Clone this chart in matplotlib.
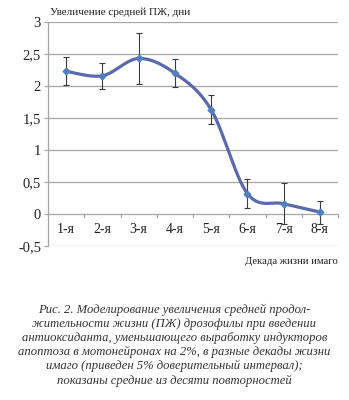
import numpy as np
import matplotlib.pyplot as plt

# Увеличение средней ПЖ по декадам жизни имаго
decades = ['1-я', '2-я', '3-я', '4-я', '5-я', '6-я', '7-я', '8-я']
means = [2.23, 2.16, 2.43, 2.20, 1.63, 0.32, 0.16, 0.03]
ci = [0.22, 0.20, 0.40, 0.22, 0.23, 0.22, 0.32, 0.18]

caption = [
    'Рис. 2. Моделирование увеличения средней продол-',
    'жительности жизни (ПЖ) дрозофилы при введении',
    'антиоксиданта, уменьшающего выработку индукторов',
    'апоптоза в мотонейронах на 2%, в разные декады жизни',
    'имаго (приведен 5% доверительный интервал);',
    'показаны средние из десяти повторностей',
]


def smooth_curve(x, y, n=40):
    # сглаженная линия из кубических сегментов Безье (как в Excel)
    pts = np.column_stack([x, y])
    ext = np.vstack([pts[0], pts, pts[-1]])
    t = np.linspace(0, 1, n)[:, None]
    out = []
    for i in range(len(pts) - 1):
        p0, p1, p2, p3 = ext[i], ext[i + 1], ext[i + 2], ext[i + 3]
        c1 = p1 + (p2 - p0) / 6
        c2 = p2 - (p3 - p1) / 6
        seg = ((1 - t) ** 3) * p1 + 3 * ((1 - t) ** 2) * t * c1 \
            + 3 * (1 - t) * t ** 2 * c2 + t ** 3 * p2
        out.append(seg)
    out = np.vstack(out)
    return out[:, 0], out[:, 1]


plt.rcParams['font.family'] = ['Liberation Serif', 'DejaVu Serif']

fig = plt.figure(figsize=(3.49, 4.0), dpi=100)
ax = fig.add_axes([48 / 349, 1 - 246 / 400, 290 / 349, 224 / 400])

x = np.arange(len(decades))
grid_col = '#a6a6a6'

for v in np.arange(-0.5, 3.01, 0.5):
    ax.axhline(v, color=grid_col, lw=0.9, zorder=0)

xs, ys = smooth_curve(x, means)
ax.plot(xs, ys, color='#5d68ab', lw=2.3, solid_capstyle='round', zorder=3)
ax.errorbar(x, means, yerr=ci, fmt='none', ecolor='#3a3a3a', elinewidth=0.8,
            capsize=2.2, capthick=0.8, zorder=4)
ax.plot(x, means, 'D', color='#4f81bd', ms=3.4, mec='#4f81bd', zorder=5)

ax.set_xlim(-0.5, len(decades) - 0.5)
ax.set_ylim(-0.5, 3.0)
ax.set_yticks(np.arange(-0.5, 3.01, 0.5))
ax.set_yticklabels([('%g' % v).replace('.', ',') for v in np.arange(-0.5, 3.01, 0.5)],
                   fontsize=10.5)
ax.tick_params(axis='y', length=3, width=0.9, color=grid_col, pad=2,
               labelcolor='#222222')
ax.set_xticks([])

for s in ['top', 'right', 'bottom']:
    ax.spines[s].set_visible(False)
ax.spines['left'].set_color(grid_col)
ax.spines['left'].set_linewidth(0.9)

# категориальная ось на уровне 0
for k in range(1, len(decades) + 1):
    ax.plot([k - 0.5, k - 0.5], [0, -0.05], color=grid_col, lw=0.9,
            clip_on=False, zorder=1)
for xi, lab in zip(x, decades):
    ax.text(xi, -0.24, lab, ha='center', va='center', fontsize=10, color='#222222')

fig.text(50 / 349, 1 - 12 / 400, 'Увеличение средней ПЖ, дни', ha='left',
         va='center', fontsize=8, color='#222222')
fig.text(338 / 349, 1 - 262 / 400, 'Декада жизни имаго', ha='right',
         va='center', fontsize=7.7, color='#222222')

for i, line in enumerate(caption):
    fig.text(0.5, 1 - (309.5 + 14.2 * i) / 400, line, ha='center', va='center',
             fontsize=9.1, style='italic', color='#333333')

fig.savefig('out.png', dpi=100, facecolor='white')
